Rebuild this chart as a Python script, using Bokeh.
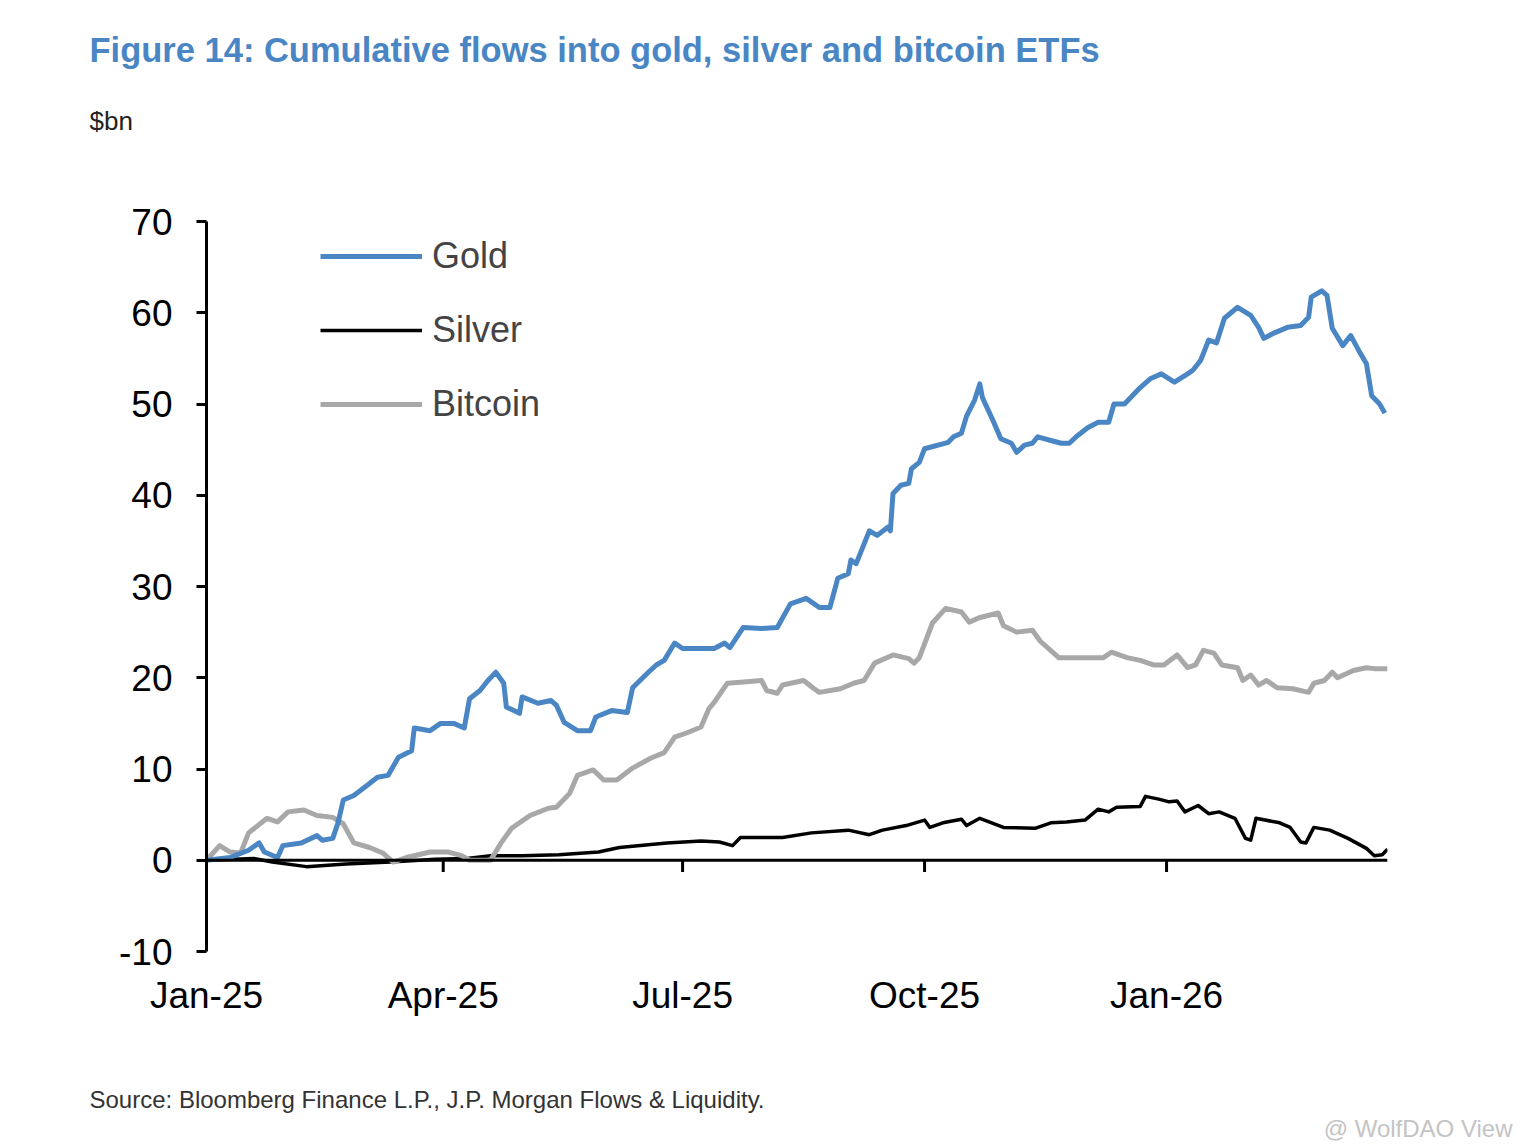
import pandas as pd
from bokeh.plotting import figure
from bokeh.models import FixedTicker, DatetimeTickFormatter, Range1d, Title, Legend, LegendItem, Span
from bokeh.embed import file_html
from bokeh.resources import INLINE

# cumulative flows, $bn
gold_dates = [
    "2025-01-01", "2025-01-10", "2025-01-17", "2025-01-21", "2025-01-23", "2025-01-28",
    "2025-01-30", "2025-02-06", "2025-02-12", "2025-02-14", "2025-02-18", "2025-02-20",
    "2025-02-22", "2025-02-26", "2025-03-03", "2025-03-07", "2025-03-11", "2025-03-15",
    "2025-03-20", "2025-03-21", "2025-03-27", "2025-03-31", "2025-04-05", "2025-04-09",
    "2025-04-11", "2025-04-15", "2025-04-18", "2025-04-21", "2025-04-24", "2025-04-25",
    "2025-04-30", "2025-05-01", "2025-05-07", "2025-05-12", "2025-05-14", "2025-05-17",
    "2025-05-22", "2025-05-27", "2025-05-29", "2025-06-04", "2025-06-10", "2025-06-12",
    "2025-06-18", "2025-06-21", "2025-06-24", "2025-06-28", "2025-07-01", "2025-07-08",
    "2025-07-13", "2025-07-17", "2025-07-19", "2025-07-24", "2025-07-31", "2025-08-06",
    "2025-08-11", "2025-08-17", "2025-08-22", "2025-08-26", "2025-08-29", "2025-09-02",
    "2025-09-03", "2025-09-05", "2025-09-10", "2025-09-13", "2025-09-17", "2025-09-18",
    "2025-09-19", "2025-09-22", "2025-09-25", "2025-09-26", "2025-09-29", "2025-10-01",
    "2025-10-10", "2025-10-12", "2025-10-15", "2025-10-17", "2025-10-20", "2025-10-22",
    "2025-10-23", "2025-10-27", "2025-10-30", "2025-11-03", "2025-11-05", "2025-11-08",
    "2025-11-11", "2025-11-13", "2025-11-18", "2025-11-22", "2025-11-25", "2025-11-28",
    "2025-12-02", "2025-12-06", "2025-12-10", "2025-12-12", "2025-12-16", "2025-12-18",
    "2025-12-22", "2025-12-26", "2025-12-30", "2026-01-04", "2026-01-09", "2026-01-11",
    "2026-01-14", "2026-01-17", "2026-01-20", "2026-01-23", "2026-01-28", "2026-02-02",
    "2026-02-05", "2026-02-07", "2026-02-11", "2026-02-16", "2026-02-21", "2026-02-24",
    "2026-02-25", "2026-03-01", "2026-03-03", "2026-03-05", "2026-03-09", "2026-03-12",
    "2026-03-15", "2026-03-18", "2026-03-20", "2026-03-23", "2026-03-25",
]
gold_values = [
    0.0, 0.3, 1.1, 1.9, 0.9, 0.3,
    1.6, 1.9, 2.7, 2.2, 2.4, 4.1,
    6.6, 7.1, 8.2, 9.1, 9.3, 11.3,
    12.0, 14.5, 14.2, 15.0, 15.0, 14.5,
    17.7, 18.6, 19.7, 20.6, 19.4, 16.8,
    16.1, 17.9, 17.2, 17.5, 17.0, 15.1,
    14.2, 14.2, 15.7, 16.4, 16.2, 18.9,
    20.6, 21.4, 21.9, 23.8, 23.2, 23.2,
    23.2, 23.8, 23.3, 25.5, 25.4, 25.5,
    28.1, 28.7, 27.7, 27.7, 30.9, 31.4,
    32.9, 32.5, 36.1, 35.6, 36.5, 36.1,
    40.2, 41.1, 41.3, 42.9, 43.6, 45.1,
    45.8, 46.4, 46.8, 48.7, 50.4, 52.2,
    50.7, 48.2, 46.2, 45.7, 44.7, 45.5,
    45.7, 46.4, 46.0, 45.7, 45.7, 46.5,
    47.4, 48.0, 48.0, 50.0, 50.0, 50.6,
    51.8, 52.8, 53.3, 52.4, 53.3, 53.7,
    54.8, 57.0, 56.7, 59.4, 60.6, 59.7,
    58.4, 57.2, 57.8, 58.4, 58.6, 59.5,
    61.7, 62.4, 61.9, 58.3, 56.4, 57.5,
    55.9, 54.4, 50.9, 50.0, 49.0,
]

silver_dates = [
    "2025-01-01", "2025-01-19", "2025-01-26", "2025-02-08", "2025-02-23", "2025-03-12",
    "2025-03-29", "2025-04-10", "2025-04-19", "2025-05-01", "2025-05-15", "2025-05-30",
    "2025-06-07", "2025-06-25", "2025-07-08", "2025-07-15", "2025-07-20", "2025-07-23",
    "2025-08-08", "2025-08-19", "2025-09-02", "2025-09-10", "2025-09-15", "2025-09-24",
    "2025-10-01", "2025-10-03", "2025-10-08", "2025-10-15", "2025-10-17", "2025-10-22",
    "2025-10-31", "2025-11-12", "2025-11-18", "2025-11-24", "2025-12-01", "2025-12-06",
    "2025-12-10", "2025-12-13", "2025-12-22", "2025-12-24", "2025-12-29", "2026-01-02",
    "2026-01-05", "2026-01-08", "2026-01-13", "2026-01-17", "2026-01-21", "2026-01-27",
    "2026-01-31", "2026-02-02", "2026-02-04", "2026-02-13", "2026-02-17", "2026-02-21",
    "2026-02-23", "2026-02-26", "2026-03-04", "2026-03-11", "2026-03-18", "2026-03-21",
    "2026-03-24", "2026-03-26",
]
silver_values = [
    0.0, 0.2, -0.2, -0.7, -0.4, -0.2,
    0.1, 0.2, 0.5, 0.5, 0.6, 0.9,
    1.4, 1.9, 2.1, 2.0, 1.6, 2.5,
    2.5, 3.0, 3.3, 2.8, 3.3, 3.8,
    4.4, 3.6, 4.1, 4.5, 3.8, 4.6,
    3.6, 3.5, 4.1, 4.2, 4.4, 5.6,
    5.3, 5.8, 5.9, 7.0, 6.7, 6.4,
    6.5, 5.3, 6.0, 5.1, 5.3, 4.6,
    2.4, 2.2, 4.6, 4.1, 3.6, 2.0,
    1.9, 3.6, 3.3, 2.4, 1.3, 0.5,
    0.6, 1.2,
]

bitcoin_dates = [
    "2025-01-01", "2025-01-06", "2025-01-10", "2025-01-14", "2025-01-17", "2025-01-24",
    "2025-01-28", "2025-02-01", "2025-02-07", "2025-02-12", "2025-02-18", "2025-02-22",
    "2025-02-26", "2025-03-04", "2025-03-09", "2025-03-13", "2025-03-18", "2025-03-27",
    "2025-04-03", "2025-04-08", "2025-04-11", "2025-04-19", "2025-04-23", "2025-04-27",
    "2025-05-04", "2025-05-11", "2025-05-14", "2025-05-19", "2025-05-22", "2025-05-28",
    "2025-06-01", "2025-06-06", "2025-06-12", "2025-06-19", "2025-06-24", "2025-06-28",
    "2025-07-03", "2025-07-08", "2025-07-11", "2025-07-13", "2025-07-18", "2025-07-23",
    "2025-07-31", "2025-08-02", "2025-08-06", "2025-08-08", "2025-08-16", "2025-08-20",
    "2025-08-22", "2025-08-30", "2025-09-04", "2025-09-08", "2025-09-12", "2025-09-19",
    "2025-09-25", "2025-09-27", "2025-09-29", "2025-10-04", "2025-10-09", "2025-10-15",
    "2025-10-18", "2025-10-22", "2025-10-29", "2025-10-31", "2025-11-05", "2025-11-11",
    "2025-11-14", "2025-11-21", "2025-11-27", "2025-12-08", "2025-12-11", "2025-12-17",
    "2025-12-22", "2025-12-27", "2025-12-31", "2026-01-05", "2026-01-09", "2026-01-12",
    "2026-01-15", "2026-01-19", "2026-01-22", "2026-01-28", "2026-01-30", "2026-02-02",
    "2026-02-05", "2026-02-08", "2026-02-12", "2026-02-18", "2026-02-24", "2026-02-26",
    "2026-03-02", "2026-03-05", "2026-03-07", "2026-03-13", "2026-03-18", "2026-03-21",
    "2026-03-26",
]
bitcoin_values = [
    0.0, 1.6, 0.9, 0.8, 3.0, 4.6,
    4.2, 5.3, 5.5, 4.9, 4.7, 4.0,
    1.9, 1.4, 0.8, -0.2, 0.3, 0.9,
    0.9, 0.5, 0.0, 0.0, 1.9, 3.5,
    4.9, 5.7, 5.8, 7.3, 9.3, 9.9,
    8.8, 8.8, 10.1, 11.2, 11.8, 13.5,
    14.0, 14.6, 16.6, 17.3, 19.4, 19.5,
    19.7, 18.6, 18.3, 19.2, 19.7, 18.8,
    18.4, 18.8, 19.4, 19.7, 21.6, 22.5,
    22.1, 21.6, 22.2, 26.0, 27.6, 27.2,
    26.1, 26.6, 27.1, 25.7, 25.0, 25.2,
    24.0, 22.2, 22.2, 22.2, 22.8, 22.2,
    21.9, 21.4, 21.4, 22.5, 21.1, 21.4,
    23.0, 22.7, 21.4, 21.1, 19.7, 20.3,
    19.2, 19.7, 18.9, 18.8, 18.4, 19.4,
    19.7, 20.6, 20.0, 20.8, 21.1, 21.0,
    21.0,
]

x_ticks = ["2025-01-01", "2025-04-01", "2025-07-01", "2025-10-01", "2026-01-01"]
y_ticks = [-10, 0, 10, 20, 30, 40, 50, 60, 70]

TITLE = "Figure 14: Cumulative flows into gold, silver and bitcoin ETFs"
UNITS = "$bn"
SOURCE = "Source: Bloomberg Finance L.P., J.P. Morgan Flows & Liquidity."
WATERMARK = "@ WolfDAO View"

GOLD_COLOR = "#4a86c4"
BITCOIN_COLOR = "#a8a8a8"
SILVER_COLOR = "#000000"
FONT = "Liberation Sans"


def to_dt(dates):
    return pd.to_datetime(dates)


def gap(size):
    # blank title row, only there to open vertical space between page texts
    return Title(text="\u00a0", standoff=size, text_font=FONT, text_font_size="10px")


p = figure(
    width=1520, height=1146, title=None,
    x_axis_type="datetime",
    x_range=Range1d(pd.Timestamp("2025-01-01"), pd.Timestamp("2026-03-26")),
    y_range=Range1d(-10, 70),
    output_backend="svg", toolbar_location=None,
    min_border_left=206, min_border_right=133,
    min_border_top=221, min_border_bottom=195,
)
p.outline_line_color = None
p.xgrid.visible = False
p.ygrid.visible = False

tick_ms = [pd.Timestamp(d).value // 10**6 for d in x_ticks]
fmt = DatetimeTickFormatter(days="%b-%y", months="%b-%y", years="%b-%y")

# bottom axis carries only the labels
xa = p.xaxis[0]
xa.ticker = FixedTicker(ticks=tick_ms)
xa.formatter = fmt
xa.axis_line_color = None
xa.major_tick_line_color = None
xa.minor_tick_line_color = None
xa.major_label_text_font = FONT
xa.major_label_text_font_size = "37px"
xa.major_label_text_color = "#000000"
xa.major_label_standoff = 17

# the x axis line itself sits at zero, ticks hanging below
p.add_layout(Span(location=0, dimension="width", line_color="#000000", line_width=3))
p.segment(x0=to_dt(x_ticks), y0=0, x1=to_dt(x_ticks), y1=-1.3,
          line_color="#000000", line_width=3)

ya = p.yaxis[0]
ya.ticker = FixedTicker(ticks=y_ticks)
ya.axis_line_width = 3
ya.major_tick_in = 0
ya.major_tick_out = 10
ya.major_tick_line_width = 3
ya.minor_tick_line_color = None
ya.major_label_text_font = FONT
ya.major_label_text_font_size = "37px"
ya.major_label_text_color = "#000000"
ya.major_label_standoff = 24
ya.major_label_overrides = {-10: "-10"}

r_silver = p.line(to_dt(silver_dates), silver_values, line_color=SILVER_COLOR,
                  line_width=3.5, line_join="round")
r_bitcoin = p.line(to_dt(bitcoin_dates), bitcoin_values, line_color=BITCOIN_COLOR,
                   line_width=5, line_join="round")
r_gold = p.line(to_dt(gold_dates), gold_values, line_color=GOLD_COLOR,
                line_width=5, line_join="round")

legend = Legend(
    items=[LegendItem(label="Gold", renderers=[r_gold]),
           LegendItem(label="Silver", renderers=[r_silver]),
           LegendItem(label="Bitcoin", renderers=[r_bitcoin])],
    location=(114, 526), orientation="vertical",
    glyph_width=102, glyph_height=40, label_height=40, spacing=32,
    label_standoff=10, padding=0, margin=0,
    background_fill_alpha=0, border_line_color=None,
    label_text_font=FONT, label_text_font_size="36px",
)
p.add_layout(legend, "center")

# above the frame, nearest first: gap, units, gap, title
p.add_layout(gap(73), "above")
p.add_layout(Title(text=UNITS, align="left", offset=-117, standoff=0,
                   text_font=FONT, text_font_style="normal", text_font_size="26px",
                   text_color="#222222"), "above")
p.add_layout(gap(22), "above")
p.add_layout(Title(text=TITLE, align="left", offset=-117, standoff=0,
                   text_font=FONT, text_font_style="bold", text_font_size="34.5px",
                   text_color=GOLD_COLOR), "above")

# below the axis labels: gap, source, watermark
p.add_layout(gap(52), "below")
p.add_layout(Title(text=SOURCE, align="left", offset=-117, standoff=0,
                   text_font=FONT, text_font_style="normal", text_font_size="24px",
                   text_color="#333333"), "below")
p.add_layout(Title(text=WATERMARK, align="right", offset=-125, standoff=0,
                   text_font=FONT, text_font_style="normal", text_font_size="24px",
                   text_color="#c4c4c4"), "below")

open("out.html", "w").write(file_html(p, INLINE))
